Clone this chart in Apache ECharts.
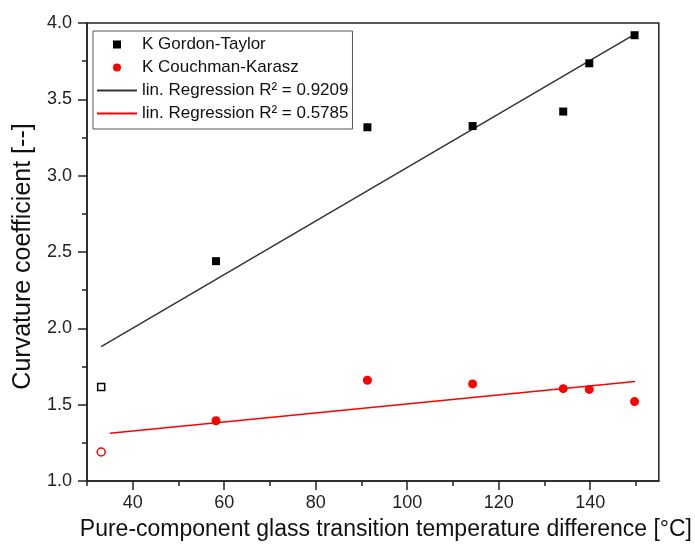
<!DOCTYPE html>
<html>
<head>
<meta charset="utf-8">
<script src="https://cdn.jsdelivr.net/npm/echarts@6/dist/echarts.min.js"></script>
<style>
  html, body { margin: 0; padding: 0; background: #fff; }
  #chart { width: 695px; height: 552px; }
</style>
</head>
<body>
<div id="chart"></div>
<script>
// measured points
const gt_x = [58.2, 91.3, 114.3, 134.1, 139.8, 149.7];
const gt_y = [2.44, 3.317, 3.325, 3.42, 3.736, 3.92];
const ck_y = [1.395, 1.66, 1.636, 1.605, 1.60, 1.52];

// excluded (hollow) point
const excl_x = [33.1];
const excl_gt = [1.616];
const excl_ck = [1.19];

// regression line end points
const fit_gt_x = [33.1, 149.7];
const fit_gt_y = [1.88, 3.926];
const fit_ck_x = [35, 149.8];
const fit_ck_y = [1.313, 1.651];

const x_major = [40, 60, 80, 100, 120, 140];
const x_minor = [30, 50, 70, 90, 110, 130, 150];

const NAMES = ['K Gordon-Taylor', 'K Couchman-Karasz',
  'lin. Regression R\u00b2 = 0.9209', 'lin. Regression R\u00b2 = 0.5785'];

const zip = (a, b) => a.map((v, i) => [v, b[i]]);

const FONT = 'Liberation Sans, Arial, sans-serif';

let option = {
  animation: false,
  backgroundColor: '#fff',
  textStyle: { fontFamily: FONT },
  grid: {
    left: 87, top: 23, right: 35, bottom: 71,
    show: true, borderColor: '#222', borderWidth: 1.5
  },
  legend: {
    data: [
      { name: NAMES[0], icon: 'path://M0,0L1,0L1,1L0,1Z' },
      { name: NAMES[1] },
      { name: NAMES[2], itemStyle: { opacity: 0 } },
      { name: NAMES[3], itemStyle: { opacity: 0 } }
    ],
    orient: 'vertical',
    left: 93, top: 31,
    padding: [5, 4, 7, 3],
    itemWidth: 40,
    itemHeight: 8,
    itemGap: 6,
    borderColor: '#555',
    borderWidth: 1,
    textStyle: { fontSize: 17, color: '#111', fontFamily: FONT }
  },
  xAxis: [{
    type: 'value',
    min: 30, max: 155,
    position: 'bottom',
    name: 'Pure-component glass transition temperature difference [\u00b0C]',
    nameLocation: 'middle',
    nameGap: 37,
    nameTextStyle: { fontSize: 23, color: '#111', padding: [0, 0, 0, 26] },
    axisLine: { lineStyle: { color: '#222', width: 1.5 } },
    axisTick: { show: true, customValues: x_major, length: 9, lineStyle: { color: '#222', width: 1.5 } },
    axisLabel: { customValues: x_major, fontSize: 18, color: '#222', margin: 13 },
    splitLine: { show: false }
  }, {
    type: 'value',
    min: 30, max: 155,
    position: 'bottom',
    axisLine: { show: false },
    axisTick: { show: true, customValues: x_minor, length: 5, lineStyle: { color: '#222', width: 1.5 } },
    axisLabel: { show: false },
    splitLine: { show: false }
  }],
  yAxis: {
    type: 'value',
    min: 1, max: 4, interval: 0.5,
    name: 'Curvature coefficient [--]',
    nameLocation: 'middle',
    nameGap: 46,
    nameTextStyle: { fontSize: 25, color: '#111', padding: [0, 9, 0, 0] },
    axisLine: { show: true, lineStyle: { color: '#222', width: 1.5 } },
    axisTick: { show: true, length: 9, lineStyle: { color: '#222', width: 1.5 } },
    minorTick: { show: true, splitNumber: 2, length: 5, lineStyle: { color: '#222', width: 1.5 } },
    axisLabel: {
      fontSize: 18, color: '#222', margin: 15,
      formatter: v => v.toFixed(1)
    },
    splitLine: { show: false }
  },
  series: [
    {
      name: NAMES[0], type: 'scatter',
      symbol: 'rect', symbolSize: 8,
      itemStyle: { color: '#000', opacity: 1 },
      data: zip(gt_x, gt_y), z: 5
    },
    {
      name: NAMES[1], type: 'scatter',
      symbol: 'circle', symbolSize: 9,
      itemStyle: { color: '#ff0000', opacity: 1 },
      data: zip(gt_x, ck_y), z: 5
    },
    {
      name: NAMES[2], type: 'line',
      symbol: 'none',
      lineStyle: { color: '#333', width: 1.5 },
      itemStyle: { color: '#333' },
      data: zip(fit_gt_x, fit_gt_y)
    },
    {
      name: NAMES[3], type: 'line',
      symbol: 'none',
      lineStyle: { color: '#ff0000', width: 1.5 },
      itemStyle: { color: '#ff0000' },
      data: zip(fit_ck_x, fit_ck_y)
    },
    {
      name: 'excluded GT', type: 'scatter',
      symbol: 'rect', symbolSize: 7,
      itemStyle: { color: '#fff', borderColor: '#000', borderWidth: 1.5, opacity: 1 },
      data: zip(excl_x, excl_gt), z: 5
    },
    {
      name: 'excluded CK', type: 'scatter',
      symbol: 'circle', symbolSize: 8,
      itemStyle: { color: '#fff', borderColor: '#ff0000', borderWidth: 1.5, opacity: 1 },
      data: zip(excl_x, excl_ck), z: 5
    }
  ]
};

var myChart = echarts.init(document.getElementById('chart'));
myChart.setOption(option);
</script>
</body>
</html>
